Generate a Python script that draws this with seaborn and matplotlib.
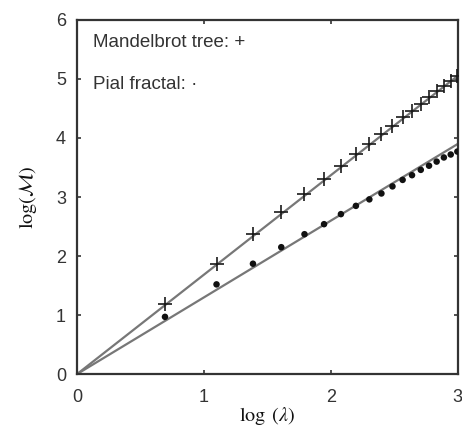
import numpy as np
import pandas as pd
import matplotlib
matplotlib.use("Agg")
import matplotlib.pyplot as plt
import seaborn as sns

# data: x = log(lambda), lambda = 2..20
log_lambda = [0.693, 1.099, 1.386, 1.609, 1.792, 1.946, 2.079, 2.197, 2.303, 2.398,
              2.485, 2.565, 2.639, 2.708, 2.773, 2.833, 2.890, 2.944, 2.996]
mandelbrot_logM = [1.18, 1.87, 2.37, 2.75, 3.05, 3.30, 3.53, 3.73, 3.90, 4.07,
                   4.21, 4.35, 4.46, 4.58, 4.69, 4.79, 4.88, 4.97, 5.05]
pial_logM = [0.97, 1.52, 1.87, 2.15, 2.37, 2.54, 2.71, 2.85, 2.96, 3.06,
             3.18, 3.29, 3.37, 3.46, 3.53, 3.60, 3.67, 3.72, 3.77]
fit_slopes = {"Mandelbrot tree": 1.685, "Pial fractal": 1.30}
x_ticks = [0, 1, 2, 3]
y_ticks = [0, 1, 2, 3, 4, 5, 6]

sns.set_style("ticks")
plt.rcParams["font.family"] = ["Liberation Sans", "DejaVu Sans"]
plt.rcParams["mathtext.fontset"] = "stix"

df_m = pd.DataFrame({"x": log_lambda, "y": mandelbrot_logM})
df_p = pd.DataFrame({"x": log_lambda, "y": pial_logM})
fit_x = [x_ticks[0], x_ticks[-1]]
df_fit = pd.concat([
    pd.DataFrame({"x": fit_x, "y": [s * v for v in fit_x], "series": name})
    for name, s in fit_slopes.items()
])

fig = plt.figure(figsize=(4.62, 4.33), dpi=100)
ax = fig.add_axes([0.1667, 0.136, 0.8243, 0.818])

line_col = "#777777"
sns.lineplot(data=df_fit, x="x", y="y", units="series", estimator=None,
             color=line_col, linewidth=1.6, ax=ax, legend=False)
sns.scatterplot(data=df_m, x="x", y="y", marker="+", s=110, color="#1a1a1a",
                linewidth=1.2, ax=ax, legend=False, zorder=3)
sns.scatterplot(data=df_p, x="x", y="y", marker="o", s=22, color="#111111",
                edgecolor="none", ax=ax, legend=False, zorder=3)

ax.set_xlim(x_ticks[0], x_ticks[-1])
ax.set_ylim(y_ticks[0], y_ticks[-1])
ax.set_xticks(x_ticks)
ax.set_yticks(y_ticks)
ax.tick_params(direction="in", length=3, width=1.2, top=True, right=True,
               labelsize=13, colors="#333333")
ax.tick_params(axis="x", pad=11)
ax.tick_params(axis="y", pad=8)
for sp in ax.spines.values():
    sp.set_visible(True)
    sp.set_linewidth(1.6)
    sp.set_color("#333333")

ax.set_xlabel(r"$\log\ (\lambda)$", fontsize=14.5, color="#111111", labelpad=-1)
ax.set_ylabel(r"$\log(\mathcal{M})$", fontsize=14.5, color="#111111", labelpad=12)

ax.text(0.126, 5.61, "Mandelbrot tree: +", fontsize=13.5, color="#333333",
        va="center", ha="left")
ax.text(0.126, 4.90, "Pial fractal: \u00b7", fontsize=13.5, color="#333333",
        va="center", ha="left")

fig.savefig("out.png", dpi=100, facecolor="white")
